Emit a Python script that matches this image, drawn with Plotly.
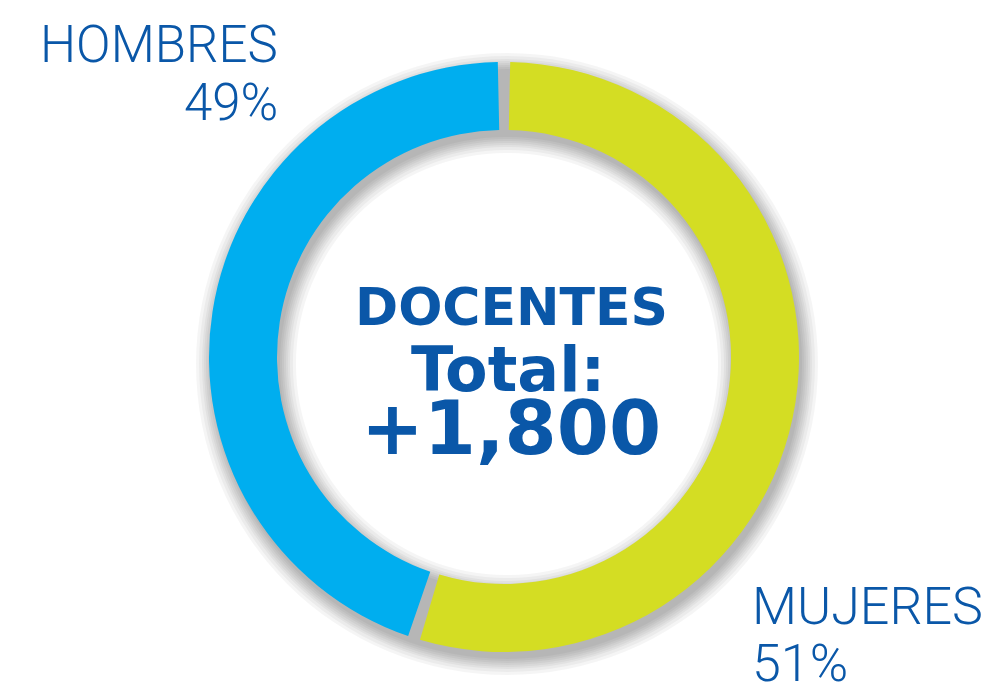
import plotly.graph_objects as go

# Data (arc shares read from the drawn ring; labels as printed)
categories = ["MUJERES", "HOMBRES"]
arc_shares = [55, 45]
pct_labels = ["51%", "49%"]
colors = ["#D4DD23", "#00AEEF"]
center_lines = ["DOCENTES", "Total:", "+1,800"]

W, H = 1000, 684
cx, cy = 504, 357          # ring centre in px (from top)
r_out, r_in = 295, 227     # visible radii
gap_share = 0.67           # share of the circle taken by each separator gap

def dom(r, dx=0, dy=0):
    x0 = (cx + dx - r) / W
    x1 = (cx + dx + r) / W
    yc = H - (cy + dy)
    return dict(x=[x0, x1], y=[(yc - r) / H, (yc + r) / H])

fig = go.Figure()

# soft drop shadow layers (offset down-right)
for grow in [16, 13, 10, 8, 6, 4, 2, 0]:
    R = r_out + grow
    Rin = max(r_in - grow, 10)
    fig.add_trace(go.Pie(
        values=[1], marker=dict(colors=["rgba(0,0,0,0.04)"]),
        hole=Rin / R, domain=dom(R, 3, 7), sort=False, textinfo="none",
        hoverinfo="skip", showlegend=False))

total = sum(arc_shares)
scale = (100 - 2 * gap_share) / total
vals = [arc_shares[0] * scale, gap_share, arc_shares[1] * scale, gap_share]
cols = [colors[0], "rgba(0,0,0,0)", colors[1], "rgba(0,0,0,0)"]
labs = [categories[0], "gap1", categories[1], "gap2"]
fig.add_trace(go.Pie(
    labels=labs, values=vals, sort=False, direction="clockwise",
    rotation=gap_share / 2 * 3.6, hole=r_in / r_out, domain=dom(r_out),
    marker=dict(colors=cols, line=dict(width=0)),
    textinfo="none", hoverinfo="label", showlegend=False))

lbl_font = dict(family="Roboto", size=51, color="#0A57A8", weight=300)
lbl_font2 = dict(family="Roboto", size=52, color="#0A57A8", weight=300)
ann = [
    dict(text=categories[1], x=280 / W, y=1 - 45 / H, xanchor="right", yanchor="middle", font=lbl_font),
    dict(text=pct_labels[1], x=280 / W, y=1 - 102 / H, xanchor="right", yanchor="middle", font=lbl_font),
    dict(text=categories[0], x=750 / W, y=1 - 606 / H, xanchor="left", yanchor="middle", font=lbl_font2),
    dict(text=pct_labels[0], x=750 / W, y=1 - 663 / H, xanchor="left", yanchor="middle", font=lbl_font2),
]
cfont = "DejaVu Sans"
ccol = "#0A57A8"
ann += [
    dict(text=f"<b>{center_lines[0]}</b>", x=511 / W, y=1 - 307 / H, xanchor="center", yanchor="middle",
         font=dict(family=cfont, size=52, color=ccol)),
    dict(text=f"<b>{center_lines[1]}</b>", x=508 / W, y=1 - 369 / H, xanchor="center", yanchor="middle",
         font=dict(family=cfont, size=62, color=ccol)),
    dict(text=f"<b>{center_lines[2]}</b>", x=511 / W, y=1 - 428 / H, xanchor="center", yanchor="middle",
         font=dict(family=cfont, size=75, color=ccol)),
]
for a in ann:
    a.update(xref="paper", yref="paper", showarrow=False)

fig.update_layout(width=W, height=H, margin=dict(l=0, r=0, t=0, b=0),
                  paper_bgcolor="white", plot_bgcolor="white", annotations=ann)
fig.write_html("out.html", config={"displayModeBar": False},
               post_script="document.body.style.margin='0';")
